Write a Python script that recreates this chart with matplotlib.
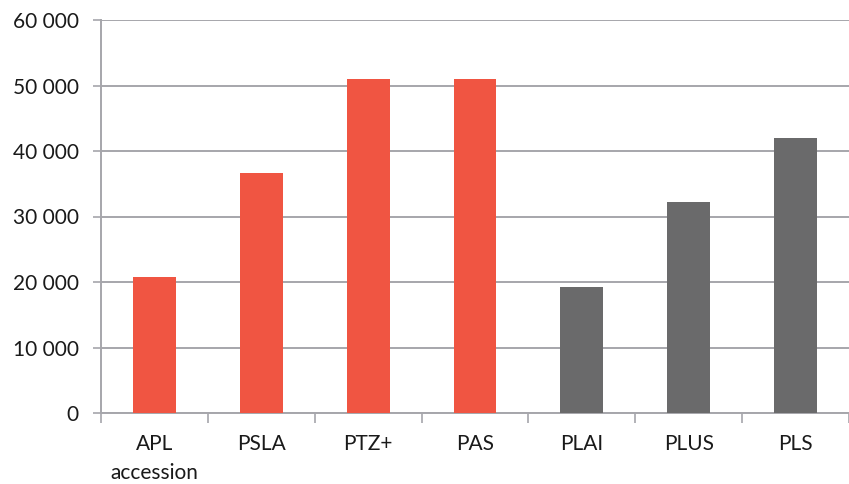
import matplotlib
matplotlib.use("Agg")
import matplotlib.pyplot as plt
from matplotlib.ticker import FuncFormatter, FixedLocator

categories = ["APL\naccession", "PSLA", "PTZ+", "PAS", "PLAI", "PLUS", "PLS"]
values = [20800, 36700, 51000, 51000, 19200, 32200, 42000]
groups = ["red", "red", "red", "red", "grey", "grey", "grey"]
yticks = [0, 10000, 20000, 30000, 40000, 50000, 60000]

palette = {"red": "#F05542", "grey": "#6A6A6B"}
axis_grey = "#A6A6AB"

plt.rcParams["font.family"] = ["Lato", "DejaVu Sans"]

fig = plt.figure(figsize=(8.49, 4.84), dpi=100)
ax = fig.add_axes([101 / 849, 1 - 413 / 484, 1 - 101 / 849, (413 - 20) / 484])

x = list(range(len(categories)))
ax.bar(x, values, width=0.4, color=[palette[g] for g in groups], zorder=3)

ax.set_xlim(-0.5, len(categories) - 0.5)
ax.set_ylim(0, 60000)
ax.set_yticks(yticks)
ax.yaxis.set_major_formatter(FuncFormatter(lambda v, p: f"{int(v):,}".replace(",", " ")))
ax.set_xticks(x)
ax.set_xticklabels(categories, fontsize=15, color="#1a1a1a", linespacing=1.6)
ax.xaxis.set_minor_locator(FixedLocator([i - 0.5 for i in range(len(categories) + 1)]))

ax.tick_params(axis="x", which="major", length=0, pad=15)
ax.tick_params(axis="x", which="minor", length=7, width=1.2, color=axis_grey)
ax.tick_params(axis="y", length=6, width=1.2, color=axis_grey, labelsize=15,
               labelcolor="#1a1a1a", pad=10)

ax.grid(axis="y", color=axis_grey, linewidth=1.4, zorder=0)
for side in ["top", "right"]:
    ax.spines[side].set_visible(False)
for side in ["left", "bottom"]:
    ax.spines[side].set_color(axis_grey)
    ax.spines[side].set_linewidth(1.4)

fig.savefig("out.png", dpi=100)
